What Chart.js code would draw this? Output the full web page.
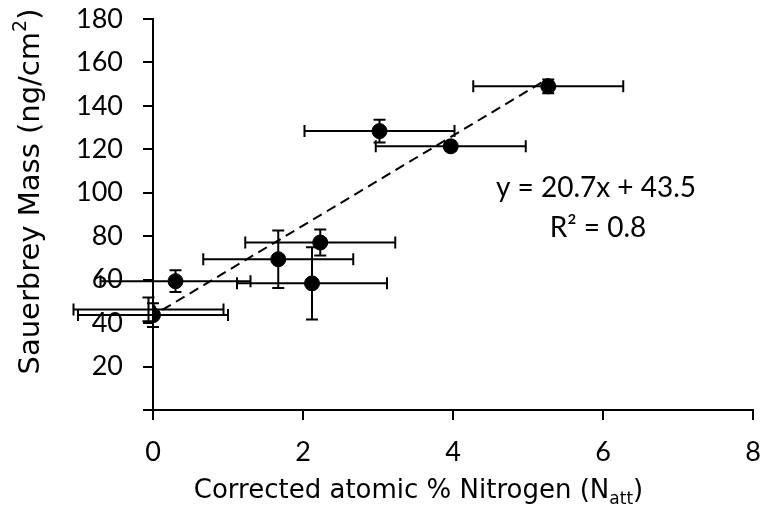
<!DOCTYPE html>
<html>
<head>
<meta charset="utf-8">
<style>
html,body{margin:0;padding:0;background:#fff;}
#wrap{width:763px;height:509px;position:relative;}
</style>
<script src="https://cdn.jsdelivr.net/npm/chart.js@4.4.1/dist/chart.umd.min.js"></script>
</head>
<body>
<div id="wrap"><canvas id="c" width="763" height="509"></canvas></div>
<script>
// ---- data ----
const xValues = [-0.06, 0.00, 0.30, 1.67, 2.12, 2.23, 3.02, 3.97, 5.27];
const yValues = [46.3, 43.7, 59.3, 69.4, 58.3, 77.1, 128.4, 121.4, 149.0];
const xErrors = [1.0, 1.0, 1.0, 1.0, 1.0, 1.0, 1.0, 1.0, 1.0];
const yErrors = [5.5, 5.5, 5.0, 13.2, 16.6, 6.0, 5.2, 2.0, 3.2];
const fitSlope = 20.7;
const fitIntercept = 43.5;
const fitR2 = 0.8;
const xTickValues = [0, 2, 4, 6, 8];
const yTickValues = [0, 20, 40, 60, 80, 100, 120, 140, 160, 180];
const xTitleMain = 'Corrected atomic % Nitrogen (N';
const xTitleSub = 'att';
const xTitleEnd = ')';
const yTitleMain = 'Sauerbrey Mass (ng/cm';
const yTitleSup = '2';
const yTitleEnd = ')';
const eqLine1 = 'y = ' + fitSlope + 'x + ' + fitIntercept;
const eqLine2 = 'R² = ' + fitR2;

const FONT = 'Lato, "Open Sans", sans-serif';
const TFONT = '"DejaVu Sans", "Liberation Sans", sans-serif';

const points = xValues.map((x, i) => ({x: x, y: yValues[i]}));
const xMin = Math.min(...xValues), xMax = Math.max(...xValues);
const fitLine = [
  {x: xMin, y: fitSlope * xMin + fitIntercept},
  {x: xMax, y: fitSlope * xMax + fitIntercept}
];

const errorBars = {
  id: 'errorBars',
  beforeDatasetsDraw(chart) {
    const {ctx, scales: {x, y}} = chart;
    ctx.save();
    ctx.strokeStyle = '#000';
    ctx.lineWidth = 2;
    const cap = 6;
    xValues.forEach((xv, i) => {
      const yv = yValues[i];
      const px = x.getPixelForValue(xv), py = y.getPixelForValue(yv);
      const xl = x.getPixelForValue(xv - xErrors[i]), xr = x.getPixelForValue(xv + xErrors[i]);
      const yt = y.getPixelForValue(yv + yErrors[i]), yb = y.getPixelForValue(yv - yErrors[i]);
      ctx.beginPath();
      ctx.moveTo(xl, py); ctx.lineTo(xr, py);
      ctx.moveTo(xl, py - cap); ctx.lineTo(xl, py + cap);
      ctx.moveTo(xr, py - cap); ctx.lineTo(xr, py + cap);
      ctx.moveTo(px, yt); ctx.lineTo(px, yb);
      ctx.moveTo(px - cap, yt); ctx.lineTo(px + cap, yt);
      ctx.moveTo(px - cap, yb); ctx.lineTo(px + cap, yb);
      ctx.stroke();
    });
    ctx.restore();
  }
};

function drawSubText(ctx, parts, cx, by) {
  let total = 0;
  parts.forEach(p => { ctx.font = p[1]; p.w = ctx.measureText(p[0]).width; total += p.w; });
  let sx = cx - total / 2;
  ctx.textAlign = 'left';
  parts.forEach(p => { ctx.font = p[1]; ctx.fillText(p[0], sx, by + p[2]); sx += p.w; });
}

const labels = {
  id: 'labels',
  afterDraw(chart) {
    const {ctx} = chart;
    ctx.save();
    ctx.fillStyle = '#000';
    ctx.textBaseline = 'alphabetic';
    // x title
    drawSubText(ctx, [[xTitleMain, '26px ' + TFONT, 0], [xTitleSub, '17px ' + TFONT, 6], [xTitleEnd, '26px ' + TFONT, 0]], 418.5, 498);
    // y title (rotated)
    ctx.save();
    ctx.translate(39, 191.5);
    ctx.rotate(-Math.PI / 2);
    drawSubText(ctx, [[yTitleMain, '29px ' + TFONT, 0], [yTitleSup, '19px ' + TFONT, -13], [yTitleEnd, '29px ' + TFONT, 0]], 0, 0);
    ctx.restore();
    // equation
    ctx.font = '28px ' + FONT;
    ctx.textAlign = 'center';
    ctx.fillText(eqLine1, 596, 197);
    ctx.fillText(eqLine2, 598, 237);
    ctx.restore();
  }
};

function zeroPad(s) { s.paddingTop = 0; s.paddingBottom = 0; s.paddingLeft = 0; s.paddingRight = 0; }

new Chart(document.getElementById('c'), {
  type: 'scatter',
  data: {
    datasets: [
      {
        type: 'line',
        data: fitLine,
        borderColor: '#000',
        borderWidth: 2,
        borderDash: [10, 6],
        pointRadius: 0,
        fill: false,
        order: 2
      },
      {
        data: points,
        backgroundColor: '#000',
        borderColor: '#000',
        pointRadius: 7.5,
        pointHoverRadius: 7.5,
        order: 1
      }
    ]
  },
  options: {
    responsive: false,
    animation: false,
    events: [],
    layout: {padding: {top: 19, right: 10, left: 0, bottom: 0}},
    plugins: {legend: {display: false}, tooltip: {enabled: false}, title: {display: false}},
    scales: {
      x: {
        type: 'linear',
        min: 0, max: 8,
        afterBuildTicks(s) { s.ticks = xTickValues.map(v => ({value: v})); },
        afterFit(s) { s.height = 99; zeroPad(s); },
        border: {display: true, color: '#000', width: 2},
        grid: {drawOnChartArea: false, drawTicks: true, tickLength: 10, color: '#000', lineWidth: 2},
        ticks: {color: '#000', font: {family: FONT, size: 27}, padding: 16, maxRotation: 0}
      },
      y: {
        type: 'linear',
        min: 0, max: 180,
        afterBuildTicks(s) { s.ticks = yTickValues.map(v => ({value: v})); },
        afterFit(s) { s.width = 153; zeroPad(s); },
        border: {display: true, color: '#000', width: 2},
        grid: {drawOnChartArea: false, drawTicks: true, tickLength: 10, color: '#000', lineWidth: 2},
        ticks: {color: '#000', font: {family: FONT, size: 27}, padding: 20,
          callback: v => v === 0 ? '' : String(v)}
      }
    }
  },
  plugins: [errorBars, labels]
});
</script>
</body>
</html>
